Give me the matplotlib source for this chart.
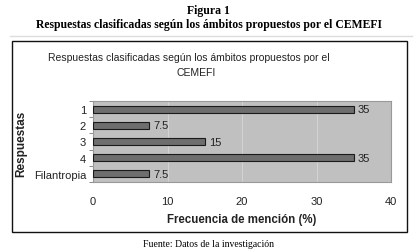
import matplotlib
matplotlib.use("Agg")
import matplotlib.pyplot as plt
from matplotlib.patches import Rectangle
from matplotlib.lines import Line2D

# Data
categorias = ["1", "2", "3", "4", "Filantropia"]
frecuencia = [35, 7.5, 15, 35, 7.5]
etiquetas = ["35", "7.5", "15", "35", "7.5"]
x_ticks = [0, 10, 20, 30, 40]

W, H = 417, 253
fig = plt.figure(figsize=(W / 100, H / 100), dpi=100)
fig.patch.set_facecolor("white")

serif = "Liberation Serif"
sans = "Liberation Sans"

# Header and footer in serif like the document
fig.text(0.5, 1 - 11 / H, "Figura 1", ha="center", va="center",
         family=serif, fontweight="bold", fontsize=8.5)
fig.text(0.5, 1 - 25 / H, "Respuestas clasificadas según los ámbitos propuestos por el CEMEFI",
         ha="center", va="center", family=serif, fontweight="bold", fontsize=8.5)
fig.text(0.5, 1 - 245 / H, "Fuente: Datos de la investigación", ha="center", va="center",
         family=serif, fontsize=7)

# light separator line and chart frame
fig.add_artist(Line2D([10 / W, 412 / W], [1 - 37 / H, 1 - 37 / H], color="#dddddd", lw=1))
fig.add_artist(Rectangle((12 / W, 1 - 233 / H), (407 - 12) / W, (233 - 42) / H,
                         transform=fig.transFigure, fill=False, edgecolor="#111111", lw=1))

fig.text(189 / W, 1 - 58 / H, "Respuestas clasificadas según los ámbitos propuestos por el",
         ha="center", va="center", family=sans, fontsize=7.45, color="#222222")
fig.text(196 / W, 1 - 73 / H, "CEMEFI", ha="center", va="center", family=sans,
         fontsize=7.45, color="#222222")

# plot area
left, right, top, bottom = 93, 391, 102, 183
ax = fig.add_axes([left / W, 1 - bottom / H, (right - left) / W, (bottom - top) / H])
ax.set_facecolor("#c0c0c0")

y = list(range(len(categorias)))
barras = ax.barh(y, frecuencia, height=0.43, color="#6e6e6e", edgecolor="#1a1a1a",
                 linewidth=0.8, zorder=3)
ax.bar_label(barras, labels=etiquetas, padding=3, family=sans, fontsize=8,
             color="#222222")

ax.set_xlim(0, 40)
ax.set_ylim(len(categorias) - 0.5, -0.5)
ax.set_xticks(x_ticks)
ax.set_xticklabels([str(t) for t in x_ticks], family=sans, fontsize=8, color="#222222")
ax.tick_params(axis="x", length=0, pad=10)
ax.set_yticks(y)
ax.set_yticklabels(categorias, family=sans, fontsize=8, color="#222222")
ax.tick_params(axis="y", length=0, pad=5)
ax.set_yticks([i - 0.5 for i in range(len(categorias) + 1)], minor=True)
ax.tick_params(axis="y", which="minor", length=3, color="#777777", width=0.6)

ax.grid(axis="x", color="#d2d2d2", lw=0.8, zorder=1)
for s in ax.spines.values():
    s.set_color("#999999")
    s.set_linewidth(0.8)

fig.text(0.5 * (left + right) / W, 1 - 220 / H, "Frecuencia de mención (%)", ha="center",
         va="center", family=sans, fontweight="bold", fontsize=8.3, color="#222222")
fig.text(21 / W, 1 - 144 / H, "Respuestas", rotation=90, ha="center", va="center",
         family=sans, fontweight="bold", fontsize=8.5, color="#222222")

fig.savefig("out.png", dpi=100)
